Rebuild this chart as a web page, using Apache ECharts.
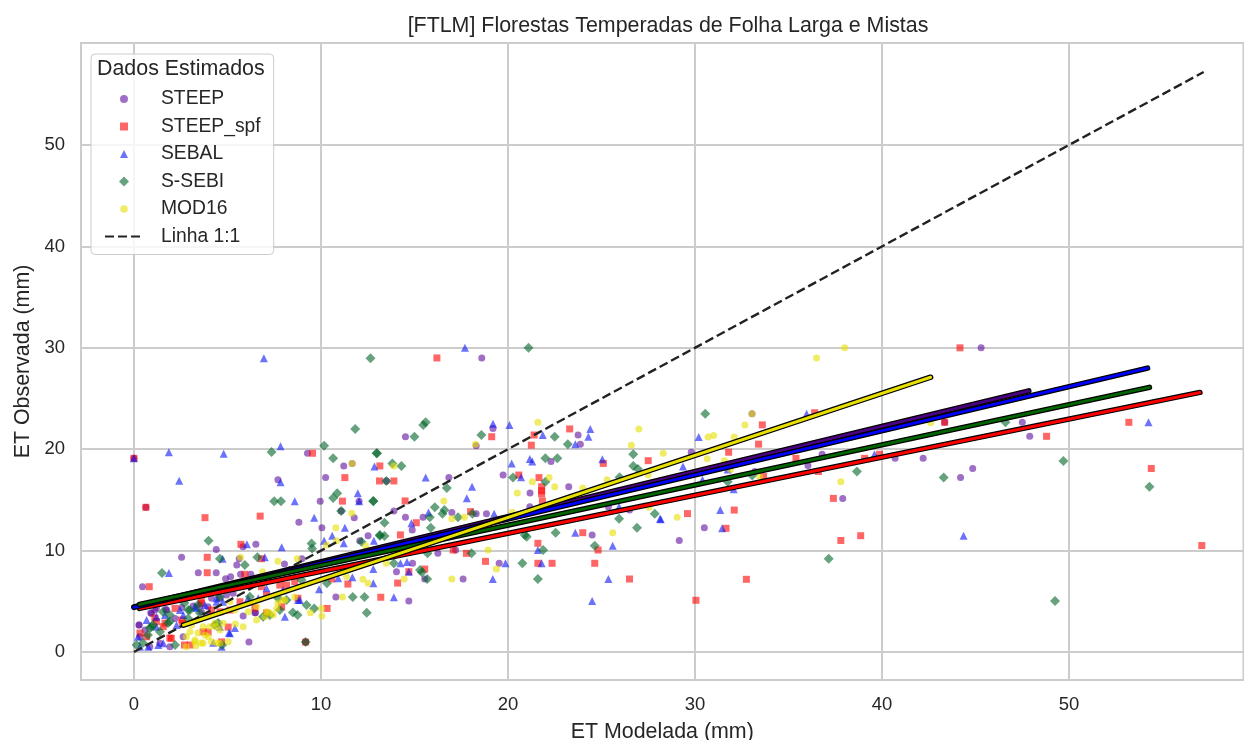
<!DOCTYPE html>
<html><head><meta charset="utf-8">
<style>html,body{margin:0;padding:0;background:#fff}#c{width:1244px;height:740px}</style>
<script src="https://cdn.jsdelivr.net/npm/echarts@6/dist/echarts.min.js"></script>
</head><body><div id="c"></div>
<script>
const chartTitle = "[FTLM] Florestas Temperadas de Folha Larga e Mistas";
const legendTitle = "Dados Estimados";
const xName = "ET Modelada (mm)";
const yName = "ET Observada (mm)";
const steep = [[45.3,30],[18.6,29],[0,19.1],[43.35,22.65],[47.5,22.65],[47.9,21.27],[44.85,18.1],[44.2,17.2],[33.05,23.5],[29.8,19.7],[36.8,19.5],[36.04,18.4],[40.7,19.1],[42.2,19.1],[33.2,17.8],[37.9,15.15],[30.5,12.25],[29.16,11],[19.2,22.05],[14.52,21.23],[23.75,21.4],[23.87,20.5],[18.3,20.35],[22.3,18.8],[19.74,17.45],[16.84,17.2],[13.5,16.87],[23.25,16.3],[21.18,15.68],[13.9,13.9],[17,13.77],[14.52,13.28],[15.46,13.28],[18.3,13.64],[18.85,13.64],[21.17,14.33],[25.37,14.33],[26.5,14],[24.5,11.55],[14.88,12.03],[16.25,9.73],[17.2,10.06],[19.53,8.75],[17.6,7.2],[15.55,7.2],[14.04,7.92],[14.9,8.75],[14.7,5.03],[9.28,19.6],[11.22,18.35],[11.67,18.6],[7.7,17],[10.25,17.2],[9.96,14.88],[12.04,14.88],[0.64,14.27],[8.82,12.8],[10.05,12.25],[11.08,13.9],[11.78,13.25],[4.4,10.1],[5.83,10.39],[6.52,10.62],[2.55,9.34],[5.63,9.2],[5.5,8.58],[8.98,9.2],[8.05,8.68],[12.08,10.98],[12.52,11.47],[3.44,7.82],[4.4,7.82],[5.7,7.66],[6.25,7.66],[5.17,7.43],[4.9,7.23],[0.46,6.44],[10.8,5.42],[6.15,0.98],[9.18,0.98],[0.28,2.66],[0.9,3.88],[1.12,4.14],[1.7,4.2],[0.59,2.17],[0.32,1.5],[2.55,4.4],[3.17,4.54],[2.2,3.3],[0.85,0.52],[1.92,0.52],[3.6,3.97],[4.06,3.65],[5.84,3.55],[6.5,3.88],[4.6,5.3],[5.3,5.8],[0.94,3.8],[1.2,4.34],[1.75,4.14],[3.53,4.63],[3.96,4.47],[0.27,2.66],[1.39,0.86],[2.63,1.5],[6.47,3.88],[4.15,5.3],[4.95,5.62]];
const steepSpf = [[44.17,30],[16.2,29],[0,19.1],[0.64,14.27],[43.35,22.65],[48.8,21.27],[53.2,22.65],[54.4,18.1],[57.1,10.5],[36.4,23.6],[33.6,22.4],[33.4,20.5],[31.8,19.7],[35.4,19.1],[36.6,17.8],[39.07,19.1],[39.87,19.5],[33.67,17.3],[37.4,15.15],[32.1,14],[29.6,13.65],[31.66,12.2],[37.8,11],[38.86,11.47],[32.75,7.17],[30.05,5.1],[19.13,21.23],[21.4,21.4],[23.3,22],[21.25,20.4],[13.15,18.35],[25.1,18.6],[27.5,18.87],[20.58,17.45],[13.13,16.87],[13.9,16.87],[21.66,17.2],[21.8,16.3],[21.8,15.9],[21.8,15.6],[21.84,14.9],[14.5,14.9],[18,13.84],[15.1,12.75],[14.25,11.55],[21.6,10.72],[17.07,10.06],[17.78,9.73],[24.82,10.06],[18.8,8.94],[21.6,8.75],[22.36,8.75],[24.64,8.75],[26.5,7.2],[14.1,6.8],[15.55,8.18],[14.7,7.92],[13.2,5.4],[24,11.77],[9.55,19.6],[11.28,17.2],[11.15,14.88],[3.8,13.25],[6.75,13.4],[5.72,10.62],[3.92,9.34],[6.82,9.2],[3.92,7.82],[5.93,7.66],[0.82,6.44],[10.58,7.2],[11.44,6.7],[10.33,4.3],[9.18,0.98],[0.68,1.5],[1.12,3.35],[1.66,2.85],[1.92,1.38],[2.6,2.85],[3.6,5.13],[4.15,4.14],[3.97,1.97],[2.7,0.69],[0.32,1.87],[5.04,2.46],[6.47,4.34],[7.09,3.85],[8.77,5.3],[7.9,4.47],[4.69,1],[1.2,3],[1.57,2.5],[2,1.35],[2.2,4.3],[3,0.69],[2.55,3.16],[3.7,2],[3.6,4.8],[4.6,3.97],[5.67,4.96],[6.82,6.44],[8.6,6.93],[5.13,4.14],[7.09,5.62],[7.8,6.6],[8.16,6.6]];
const sebal = [[17.7,30],[6.95,28.96],[0,19.1],[54.25,22.65],[44.36,11.47],[35.97,23.5],[30.2,21.2],[39.6,19.5],[29.36,18.3],[31.75,18],[30.4,17],[32.07,16.05],[31.35,14],[28.17,13.1],[31.45,12.2],[19.2,22.5],[20.08,22.4],[21.86,21.4],[24.4,22],[24.3,21.23],[23.6,20.5],[12.86,18.3],[20.2,18.6],[21.17,19.04],[21.3,18.8],[25.05,19],[20.7,17.23],[15.6,17.2],[18.08,16.3],[17.8,15.16],[15.75,13.77],[19.26,13.64],[25.94,14.33],[28.13,13.15],[23.6,11.77],[14.84,12.7],[21.6,10.06],[25.6,10.48],[19.87,8.75],[21.8,8.75],[19.19,7.2],[25.37,7.2],[14.7,7.92],[14.25,8.75],[14.6,8.88],[12.8,8.18],[12.8,6.77],[13.9,5.4],[24.5,5.03],[1.87,19.7],[4.8,19.56],[7.84,20.3],[2.42,16.9],[7.84,16.73],[8.6,14.88],[11.97,15.65],[12.04,14.88],[9.64,13.25],[10.6,11.47],[11.28,12.25],[6.04,10.62],[7.9,10.32],[4.74,9.2],[7,9.34],[10.17,10.98],[11.22,10.72],[12.83,10.98],[1.87,7.79],[11.68,7.37],[10.92,7.27],[9.9,6.18],[0.32,0.52],[0.22,1.5],[0.77,0.52],[1.3,0.69],[1.2,2.5],[1.66,3.65],[2.28,2.66],[2.46,4.14],[3.35,4.34],[3.8,4.63],[0.68,3.16],[5.08,1.9],[4.6,2.5],[4.42,4.96],[8.07,3.48],[4.69,0.52],[8.78,5.13],[6.65,5.3],[5.4,2.37],[4.76,4.96],[1.57,0.86],[4.24,0.92],[2.64,3.65],[3.26,4.47],[4.42,5.3],[5.13,1.84],[1.2,3.48],[6.1,5.3],[7.09,6.28],[8.87,5.13],[7.97,6.1]];
const sSebi = [[21.1,30],[12.65,28.96],[54.3,16.3],[49.25,5.03],[49.7,18.83],[46.6,22.65],[43.3,17.2],[38.66,17.8],[37.15,9.2],[30.55,23.5],[33.06,17.4],[31.75,16.8],[15.6,22.65],[15.47,22.4],[15,21.23],[18.58,21.4],[22.5,21.23],[23.2,20.5],[13,19.6],[26.7,19.5],[13.82,18.6],[14.3,18.35],[22,19.1],[22.64,19.1],[26.7,18.35],[26.95,18.05],[20.27,17.2],[13.5,16.87],[22,16.8],[25.97,17.23],[16.73,16.17],[12.8,14.9],[16.09,14.27],[16.6,14],[16.5,13.64],[17.33,13.28],[15.82,13.28],[18.1,13.64],[25.94,13.15],[27.85,13.64],[26.9,12.25],[22.55,11.77],[20.9,11.55],[21,11.37],[13.4,12.75],[15.87,12.25],[13.15,11.55],[13.4,11.45],[21.88,10.06],[15.7,9.73],[18.05,9.73],[24.64,10.48],[20.77,8.75],[21.6,7.2],[15.68,7.2],[15.3,8.08],[15.4,7.86],[13.9,8.75],[7.36,19.72],[10.17,20.35],[10.65,19.1],[11.83,22],[12.97,19.6],[7.5,14.88],[7.86,14.88],[10.87,15.65],[10.65,15.2],[12.8,14.88],[11.08,13.9],[3.99,10.98],[9.5,10.7],[9.53,10.22],[12.17,10.88],[13.15,11.47],[4.6,9.2],[6.6,9.34],[5.93,8.58],[1.5,7.79],[11.7,5.42],[12.33,5.42],[12.45,3.88],[10.32,6.77],[9.64,4.3],[9.23,4.63],[8.5,3.9],[8.75,3.65],[9.18,0.98],[0.85,2.37],[1.92,3.65],[1.02,2.66],[3,4.14],[2.2,0.69],[0.48,0.89],[1.82,2.86],[0.14,0.69],[1.39,2],[2.7,4.83],[0.75,1.68],[3.42,4.63],[1.55,3.97],[6.91,3.48],[4.5,2.86],[4.72,0.69],[6.2,5.45],[7.8,4.14],[7.27,3.65],[0.94,2.5],[1.92,3],[2.9,4.14],[3.53,3.85],[2.9,3.3],[4.33,2.66],[4.6,5.45],[8.96,7.1],[7.71,5.3],[8.16,5.13]];
const mod16 = [[38,30],[36.5,29],[33.05,23.5],[32.67,22.4],[30.7,21.2],[31,21.35],[32.1,21.2],[28.3,19.6],[30.65,19.05],[31.57,18.87],[42.6,22.6],[31.9,18],[33.46,17.3],[37.8,16.8],[29.05,13.3],[21.6,22.65],[27,22],[26.6,20.4],[18.26,20.5],[13.9,18.35],[21.3,16.8],[22.2,17.2],[27.5,17.45],[25.3,17],[22.5,16.3],[20.5,15.68],[16.57,14.9],[24,16.17],[17.67,13.28],[17,13.15],[20.24,13.78],[27.54,14.27],[25.6,11.77],[18.94,10.06],[19.38,8.18],[17,7.2],[14.45,7.2],[13.5,8.75],[11.67,18.6],[11.65,13.68],[10.8,12.25],[5.7,9.34],[7.7,8.94],[8.73,9.2],[10.3,10.55],[10.83,10.98],[12.4,10.46],[6.88,7.92],[11.15,5.42],[12.24,7.17],[12.52,6.77],[11.37,7.43],[8.6,5.42],[10.03,4.3],[10.05,3.55],[9.44,3.88],[3,2],[3.26,1],[3.6,0.89],[4.06,2.5],[4.42,0.89],[2.8,1.5],[3.42,1.87],[3.8,1.68],[4.15,1],[3.08,2.66],[4.33,2.86],[2.8,0.52],[4.42,2.5],[4.6,2.17],[5.43,2.76],[6.56,3.16],[5.04,1],[6.56,4.47],[7.27,3.85],[7.7,4.83],[8.07,5.13],[5.4,4.14],[5.84,2.5],[7,3.48],[7.45,3.65],[3.26,1.18],[3.97,1.5],[4.77,2.83],[4.6,0.86],[3.31,0.62],[3.7,0.86],[5.13,4.96],[7.09,3.97],[7.97,5.13],[7.63,4.3],[6.11,3.97],[3.7,2.5]];
const identityLine = [[0,0],[57.2,57.2]];
const fitSteep = [[0,4.45],[47.85,25.75]];
const fitSteepSpf = [[0.3,4.3],[57,25.6]];
const fitSebal = [[0,4.4],[54.2,28]];
const fitSSebi = [[0.3,4.7],[54.3,26.1]];
const fitMod16 = [[2.65,2.65],[42.6,27.1]];
const xTicks = [0,10,20,30,40,50];
const yTicks = [0,10,20,30,40,50];

const ink = '#262626', grey = '#cccccc', font = '"Liberation Sans", Arial, sans-serif';
const scatter = (name, data, symbol, size, color) => ({
  name, type:'scatter', data, symbol, symbolSize:size, z:2,
  itemStyle:{color, opacity:0.6}, silent:true
});
const fit = (data, color) => [
  {type:'line', data, symbol:'none', z:4, silent:true, lineStyle:{color:'#000', width:5.5, cap:'round'}},
  {type:'line', data, symbol:'none', z:4, silent:true, lineStyle:{color, width:3, cap:'round'}}
];
const valueAxis = (name, gap, min, max, ticks, margin) => ({
  type:'value', min, max, name, nameLocation:'middle', nameGap:gap,
  nameTextStyle:{fontFamily:font, fontSize:21.4, color:ink},
  axisLine:{show:false},
  axisTick:{show:false, customValues:ticks},
  axisLabel:{customValues:ticks, fontFamily:font, fontSize:18.5, color:ink, margin},
  splitLine:{show:true, lineStyle:{color:grey, width:2}}
});
const chart = echarts.init(document.getElementById('c'), null, {renderer:'canvas'});
chart.setOption({
  animation:false,
  backgroundColor:'#fff',
  textStyle:{fontFamily:font, color:ink},
  title:[
    {text:chartTitle, left:668, top:16, textAlign:'center', padding:0, textStyle:{fontFamily:font, fontSize:21.4, fontWeight:'normal', color:ink}},
    {text:legendTitle, left:97, top:59, padding:0, z:10, textStyle:{fontFamily:font, fontSize:21.4, fontWeight:'normal', color:ink}}
  ],
  grid:{left:81, right:0.5, top:43, bottom:60, show:true, borderColor:grey, borderWidth:2, backgroundColor:'transparent', outerBoundsMode:'none'},
  legend:{
    orient:'vertical', left:91, top:54, z:5,
    padding:[35.5,13,8.5,13], itemWidth:38, itemHeight:10, itemGap:8.5,
    backgroundColor:'rgba(255,255,255,0.8)', borderColor:grey, borderWidth:1, borderRadius:4,
    selectedMode:false, symbolKeepAspect:true,
    textStyle:{fontFamily:font, fontSize:19.3, color:ink, padding:[0,0,0,13]},
    data:[
      {name:'STEEP',icon:'path://M0 0L0 0M10 10L10 10M5 1A4 4 0 1 1 4.99 1Z'},
      {name:'STEEP_spf',icon:'path://M0 0L0 0M10 10L10 10M1 1H9V9H1Z'},
      {name:'SEBAL',icon:'path://M0 0L0 0M10 10L10 10M5 1L9 9L1 9Z'},
      {name:'S-SEBI',icon:'path://M5 0L10 5L5 10L0 5Z'},
      {name:'MOD16',icon:'path://M0 0L0 0M10 10L10 10M5 1.2A3.8 3.8 0 1 1 4.99 1.2Z'},
      {name:'Linha 1:1',itemStyle:{opacity:0}}
    ]
  },
  xAxis:valueAxis(xName, 42, -2.83, 59.33, xTicks, 15),
  yAxis:valueAxis(yName, 46, -2.76, 60.06, yTicks, 16),
  series:[
    scatter('STEEP', steep, 'circle', 7, '#5e0f9e'),
    scatter('STEEP_spf', steepSpf, 'rect', 7, '#ff0000'),
    scatter('SEBAL', sebal, 'triangle', 8, '#0a14f5'),
    scatter('S-SEBI', sSebi, 'diamond', 10, '#006428'),
    scatter('MOD16', mod16, 'circle', 7, '#e8e000'),
    {name:'Linha 1:1', type:'line', data:identityLine, symbol:'none', z:3, silent:true,
     itemStyle:{color:'#222'}, lineStyle:{color:'#222', width:2.4, type:[9,4]}},
    ...fit(fitSteep,'#4b0082'),
    ...fit(fitSteepSpf,'#ff0000'),
    ...fit(fitSebal,'#0000ff'),
    ...fit(fitSSebi,'#006400'),
    ...fit(fitMod16,'#e8e000')
  ]
});
</script></body></html>
